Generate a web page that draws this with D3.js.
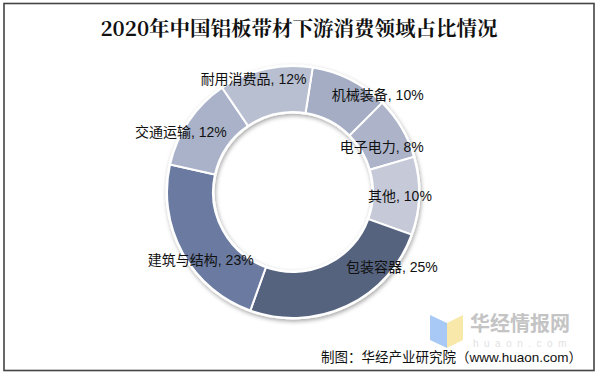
<!DOCTYPE html>
<html><head><meta charset="utf-8">
<script src="https://cdn.jsdelivr.net/npm/d3@7/dist/d3.min.js"></script>
<style>
html,body{margin:0;padding:0;background:#fff;}
svg{display:block;}
</style></head>
<body>
<svg id="c" width="599" height="375"></svg>
<script>
const categories = ["机械装备","电子电力","其他","包装容器","建筑与结构","交通运输","耐用消费品"];
const values = [10, 8, 10, 25, 23, 12, 12];
const colors = ["#a4adc4","#adb4c9","#c6cad8","#55637f","#6a7aa0","#a9b2c8","#b8bfd1"];
// label nudges relative to slice centroid (layout only)
const labelNudge = [[38,-5],[0,7],[4,1],[55,-18],[-2,18],[-27,-2],[-17,-12]];
const title = "2020年中国铝板带材下游消费领域占比情况";
const source = "制图：华经产业研究院（www.huaon.com）";

const svg = d3.select("#c");
const cx = 293, cy = 192, rOut = 126, rIn = 80;

svg.append("rect").attr("x",4).attr("y",3.5).attr("width",590).attr("height",367)
  .attr("fill","#fff").attr("stroke","#444").attr("stroke-width",1.6);

svg.append("text").attr("x",299).attr("y",36).attr("text-anchor","middle")
  .attr("font-family","'Noto Serif CJK SC','Noto Sans CJK SC',serif").attr("font-weight","bold")
  .attr("font-size",20.5).attr("fill","#111").text(title);

const defs = svg.append("defs");
const f = defs.append("filter").attr("id","sh").attr("x","-20%").attr("y","-20%").attr("width","140%").attr("height","140%");
f.append("feDropShadow").attr("dx",1).attr("dy",2).attr("stdDeviation",2.2).attr("flood-color","#000").attr("flood-opacity",0.35);

const pie = d3.pie().sort(null).value(d=>d).startAngle(9*Math.PI/180).endAngle(9*Math.PI/180+2*Math.PI);
const arcs = pie(values);
const arc = d3.arc().innerRadius(rIn).outerRadius(rOut);
const mid = d3.arc().innerRadius(103).outerRadius(103);

const g = svg.append("g").attr("transform",`translate(${cx},${cy})`);
g.append("path").attr("d", d3.arc().innerRadius(rIn-1.5).outerRadius(rOut+1.5)({startAngle:0,endAngle:2*Math.PI}))
  .attr("fill","#fff").attr("filter","url(#sh)");
g.selectAll("path.s").data(arcs).join("path").attr("class","s")
  .attr("d",arc).attr("fill",(d,i)=>colors[i]).attr("stroke","#fff").attr("stroke-width",2);

g.selectAll("text.l").data(arcs).join("text").attr("class","l")
  .attr("x",(d,i)=>mid.centroid(d)[0]+labelNudge[i][0])
  .attr("y",(d,i)=>mid.centroid(d)[1]+labelNudge[i][1]+5)
  .attr("text-anchor","middle")
  .attr("font-family","'Liberation Sans','Noto Sans CJK SC',sans-serif")
  .attr("font-size",14).attr("fill","#111")
  .text((d,i)=>`${categories[i]}, ${values[i]}%`);

// watermark
const wm = svg.append("g");
wm.append("path").attr("d","M430,315 L447,323 L447,348 L430,340 Z").attr("fill","#9ec3f5").attr("opacity",0.9);
wm.append("path").attr("d","M447,323 L463,315 L463,340 L447,348 Z").attr("fill","#f7e6a0").attr("opacity",0.9);
wm.append("text").attr("x",470).attr("y",331).attr("font-family","'Noto Sans CJK SC',sans-serif")
  .attr("font-weight","bold").attr("font-size",20).attr("fill","#c4c4c4").text("华经情报网");
wm.append("text").attr("x",473).attr("y",347).attr("font-family","'Liberation Sans',sans-serif")
  .attr("font-size",10).attr("letter-spacing",5.5).attr("fill","#e2e2e2").text("huaon.com");

svg.append("text").attr("x",582).attr("y",362).attr("text-anchor","end")
  .attr("font-family","'Liberation Sans','Noto Sans CJK SC',sans-serif")
  .attr("font-size",13.5).attr("fill","#111").text(source);
</script>
</body></html>
